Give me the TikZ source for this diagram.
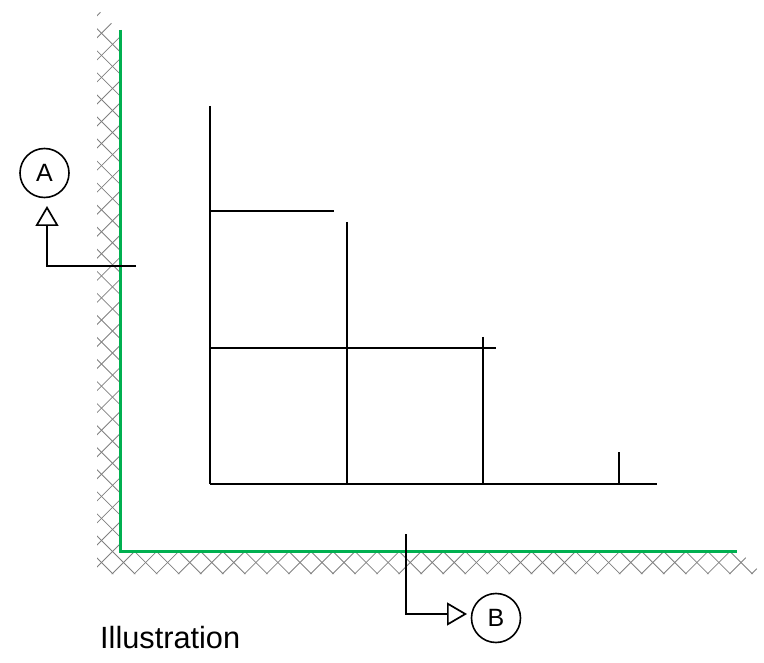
\documentclass[tikz,border=0pt]{standalone}
\usepackage{fontspec}
\setmainfont{Liberation Sans}
\usetikzlibrary{arrows.meta}
\definecolor{wallgreen}{HTML}{00B050}
\definecolor{hatchgray}{HTML}{808080}
\tikzset{
  px/.style={x=1pt,y=-1pt},
  hatchline/.style={draw=hatchgray,line width=0.8pt},
  wallface/.style={draw=wallgreen,line width=3pt,line cap=butt,line join=miter},
  member/.style={draw=black,line width=1.7pt},
  leader/.style={draw=black,line width=1.7pt,line join=miter,-{Triangle[open,length=20pt,width=23pt,line width=1.7pt]}},
  marker/.style={circle,draw=black,line width=1.6pt,minimum size=49pt,inner sep=0pt,font=\fontsize{25}{25}\selectfont},
  caption/.style={anchor=base west,inner sep=0pt,font=\fontsize{30.7}{32}\selectfont}
}
\begin{document}
\begin{tikzpicture}[px]
\useasboundingbox (0,0) rectangle (764,663);
% hatched wall band
\begin{scope}
  \clip (97,9) -- (120,32) -- (120,552) -- (740,552) -- (762,574) -- (97,574) -- cycle;
  \foreach \k in {-30,...,60} {
    \pgfmathsetmacro{\cA}{664+22.05*\k}
    \pgfmathsetmacro{\cB}{-461+22.05*\k}
    \draw[hatchline] (\cA-700,700) -- (\cA,0);
    \draw[hatchline] (\cB,0) -- (\cB+700,700);
  }
\end{scope}
% wall face
\coordinate (wt) at (120.5,30);
\coordinate (wc) at (120.5,551);
\coordinate (wr) at (737,551);
\draw[wallface] (wt) -- (wc) -- (wr);
% frame members
\coordinate (v1t) at (210,106);
\coordinate (v1b) at (210,484);
\coordinate (h1l) at (210,211);
\coordinate (h1r) at (334,211);
\coordinate (v2t) at (347,222);
\coordinate (v2b) at (347,484);
\coordinate (h2l) at (210,348);
\coordinate (h2r) at (496,348);
\coordinate (v3t) at (483,337);
\coordinate (v3b) at (483,484);
\coordinate (v4t) at (619,452);
\coordinate (v4b) at (619,484);
\coordinate (bl) at (210,484);
\coordinate (br) at (657,484);
\draw[member] (v1t) -- (v1b);
\draw[member] (h1l) -- (h1r);
\draw[member] (v2t) -- (v2b);
\draw[member] (h2l) -- (h2r);
\draw[member] (v3t) -- (v3b);
\draw[member] (v4t) -- (v4b);
\draw[member] (bl) -- (br);
% section markers
\node[marker] (A) at (44.5,173) {A};
\node[marker] (B) at (496,618) {B};
\coordinate (aStart) at (136,266);
\coordinate (aBend) at (47,266);
\coordinate (aTip) at (47,206);
\coordinate (bStart) at (406,534);
\coordinate (bBend) at (406,614);
\coordinate (bTip) at (467,614);
\draw[leader] (aStart) -- (aBend) -- (aTip);
\draw[leader] (bStart) -- (bBend) -- (bTip);
\node[caption] (cap) at (100,648) {Illustration};
\end{tikzpicture}
\end{document}
